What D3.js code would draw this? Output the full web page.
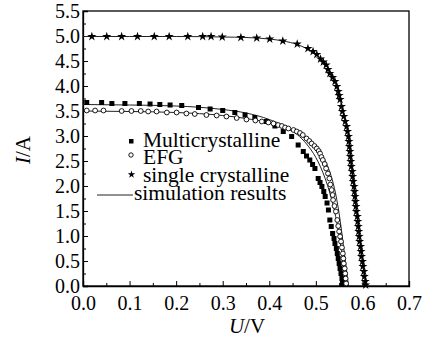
<!DOCTYPE html>
<html>
<head>
<meta charset="utf-8">
<title>I-V curves</title>
<style>
  body { margin: 0; background: #fff; }
</style>
</head>
<body>
<div id="chart"></div>
<script src="https://d3js.org/d3.v7.min.js"></script>
<script>

// measured points, voltage (V) and current (A)
var multiV = [0.008,0.040,0.062,0.090,0.121,0.144,0.165,0.187,0.212,0.248,0.273,0.300,0.326,0.348,0.369,0.394,0.412,0.430,0.448,0.462,0.473,0.480,0.487,0.493,0.498,0.505,0.509,0.513,0.517,0.520,0.524,0.527,0.530,0.533,0.536,0.539,0.541,0.544,0.546,0.548,0.550,0.552,0.554,0.556,0.557];
var multiI = [3.67,3.67,3.65,3.65,3.65,3.64,3.63,3.62,3.61,3.57,3.54,3.51,3.47,3.42,3.37,3.29,3.20,3.09,2.99,2.82,2.69,2.60,2.52,2.43,2.35,2.15,2.07,1.99,1.89,1.79,1.66,1.52,1.32,1.19,1.05,0.95,0.85,0.75,0.65,0.55,0.45,0.35,0.25,0.15,0.05];

var efgV = [0.008,0.026,0.044,0.083,0.104,0.124,0.140,0.158,0.180,0.201,0.222,0.240,0.265,0.287,0.308,0.330,0.351,0.370,0.384,0.398,0.409,0.419,0.427,0.434,0.441,0.452,0.459,0.466,0.472,0.480,0.486,0.491,0.497,0.502,0.506,0.509,0.512,0.515,0.519,0.522,0.526,0.529,0.531,0.534,0.536,0.537,0.540,0.543,0.546,0.548,0.550,0.552,0.554,0.556,0.558,0.559,0.560,0.562,0.563,0.564,0.565];
var efgI = [3.51,3.51,3.51,3.50,3.50,3.50,3.49,3.49,3.47,3.47,3.45,3.44,3.42,3.41,3.39,3.36,3.33,3.31,3.29,3.27,3.25,3.22,3.20,3.17,3.15,3.12,3.09,3.06,3.02,2.95,2.90,2.85,2.80,2.75,2.70,2.65,2.58,2.52,2.44,2.35,2.25,2.15,2.03,1.92,1.82,1.72,1.60,1.49,1.32,1.20,1.09,0.99,0.89,0.77,0.65,0.55,0.45,0.35,0.25,0.15,0.05];

var singleV = [0.019,0.051,0.083,0.117,0.153,0.185,0.225,0.257,0.275,0.299,0.339,0.373,0.401,0.429,0.460,0.483,0.494,0.502,0.510,0.516,0.522,0.526,0.530,0.536,0.541,0.545,0.548,0.550,0.552,0.555,0.557,0.560,0.563,0.566,0.568,0.570,0.571,0.572,0.573,0.574,0.575,0.576,0.578,0.579,0.580,0.582,0.583,0.584,0.585,0.586,0.587,0.589,0.590,0.591,0.592,0.593,0.594,0.596,0.597,0.598,0.600,0.601,0.603,0.604,0.606,0.607];
var singleI = [4.99,4.99,4.99,4.99,4.99,4.99,4.99,4.99,4.99,4.98,4.97,4.96,4.94,4.90,4.84,4.75,4.69,4.63,4.54,4.48,4.42,4.33,4.25,4.17,4.09,3.99,3.89,3.81,3.73,3.59,3.49,3.39,3.29,3.19,3.09,2.99,2.89,2.79,2.69,2.59,2.49,2.39,2.29,2.19,2.09,1.99,1.89,1.79,1.69,1.59,1.49,1.39,1.29,1.19,1.09,0.99,0.89,0.79,0.69,0.59,0.49,0.39,0.29,0.19,0.09,0.02];

// simulation curves
var simMultiV = [0,0.1,0.2,0.3,0.35,0.4,0.43,0.46,0.48,0.50,0.52,0.53,0.54,0.55,0.56,0.565];
var simMultiI = [3.63,3.62,3.60,3.53,3.46,3.33,3.21,3.03,2.84,2.57,2.15,1.86,1.50,1.00,0.38,0];
var simEfgV = [0,0.1,0.2,0.3,0.35,0.4,0.44,0.47,0.50,0.52,0.53,0.54,0.55,0.56,0.57];
var simEfgI = [3.50,3.49,3.47,3.41,3.35,3.26,3.14,3.00,2.77,2.50,2.28,1.95,1.45,0.75,0];
var simSingleV = [0,0.1,0.2,0.3,0.35,0.4,0.43,0.46,0.48,0.50,0.52,0.54,0.55,0.56,0.57,0.58,0.59,0.60,0.608];
var simSingleI = [4.99,4.99,4.99,4.98,4.97,4.94,4.90,4.83,4.75,4.64,4.44,4.09,3.80,3.40,2.98,2.10,1.28,0.50,0];

var xTicks = [0,0.1,0.2,0.3,0.4,0.5,0.6,0.7];
var yTicks = [0,0.5,1,1.5,2,2.5,3,3.5,4,4.5,5,5.5];

var legendLabels = ["Multicrystalline","EFG","single crystalline","simulation results"];

var W = 432, H = 339;
var m = {top: 11, right: 23, bottom: 53, left: 83};
var w = W - m.left - m.right, h = H - m.top - m.bottom;
var FONT = "Liberation Serif";

var svg = d3.select("#chart").append("svg")
    .attr("width", W).attr("height", H)
    .attr("font-family", FONT);

var x = d3.scaleLinear().domain([0, 0.7]).range([m.left, m.left + w]);
var y = d3.scaleLinear().domain([0, 5.5]).range([m.top + h, m.top]);

function zip(a, b) {
  var out = [];
  for (var i = 0; i < a.length; i++) out.push([a[i], b[i]]);
  return out;
}

// frame
svg.append("rect")
  .attr("x", m.left).attr("y", m.top).attr("width", w).attr("height", h)
  .attr("fill", "none").attr("stroke", "#000").attr("stroke-width", 1.3);

// x axis, ticks pointing inward
var xMinor = d3.range(0.05, 0.7, 0.1);
svg.append("g").attr("transform", "translate(0," + (m.top + h) + ")")
  .call(d3.axisBottom(x).tickValues(xTicks).tickSize(-5).tickPadding(10)
    .tickFormat(d3.format(".1f")));
svg.append("g").attr("transform", "translate(0," + (m.top + h) + ")")
  .call(d3.axisBottom(x).tickValues(xMinor).tickSize(-3).tickFormat(""))
  .select(".domain").remove();

var yMinor = d3.range(0.25, 5.5, 0.5);
svg.append("g").attr("transform", "translate(" + m.left + ",0)")
  .call(d3.axisLeft(y).tickValues(yTicks).tickSize(-5).tickPadding(3)
    .tickFormat(d3.format(".1f")));
svg.append("g").attr("transform", "translate(" + m.left + ",0)")
  .call(d3.axisLeft(y).tickValues(yMinor).tickSize(-3).tickFormat(""))
  .select(".domain").remove();

svg.selectAll("g").attr("font-family", FONT);
svg.selectAll(".domain").attr("stroke", "#000").attr("stroke-width", 1.3);
svg.selectAll(".tick line").attr("stroke", "#000").attr("stroke-width", 1);
svg.selectAll(".tick text").attr("font-family", FONT).attr("font-size", 20).attr("fill", "#000");

// axis titles
var yt = svg.append("text")
  .attr("transform", "translate(30,150) rotate(-90)")
  .attr("text-anchor", "middle").attr("font-size", 21).attr("font-family", FONT);
yt.append("tspan").attr("font-style", "italic").text("I");
yt.append("tspan").text("/A");

var xt = svg.append("text")
  .attr("x", x(0.35) + 1).attr("y", 333)
  .attr("text-anchor", "middle").attr("font-size", 21).attr("font-family", FONT);
xt.append("tspan").attr("font-style", "italic").text("U");
xt.append("tspan").text("/V");

// simulation lines
var line = d3.line()
  .x(function(d){ return x(d[0]); })
  .y(function(d){ return y(d[1]); })
  .curve(d3.curveMonotoneX);

[[simMultiV, simMultiI], [simEfgV, simEfgI], [simSingleV, simSingleI]].forEach(function(s) {
  svg.append("path")
    .datum(zip(s[0], s[1]))
    .attr("d", line)
    .attr("fill", "none").attr("stroke", "#222").attr("stroke-width", 1);
});

// markers
var star = d3.symbol().type(d3.symbolStar).size(26);

svg.append("g").selectAll("rect")
  .data(zip(multiV, multiI)).enter().append("rect")
  .attr("x", function(d){ return x(d[0]) - 2.5; })
  .attr("y", function(d){ return y(d[1]) - 2.5; })
  .attr("width", 5).attr("height", 5).attr("fill", "#000");

svg.append("g").selectAll("circle")
  .data(zip(efgV, efgI)).enter().append("circle")
  .attr("cx", function(d){ return x(d[0]); })
  .attr("cy", function(d){ return y(d[1]); })
  .attr("r", 2.4).attr("fill", "#fff").attr("stroke", "#000").attr("stroke-width", 0.9);

svg.append("g").selectAll("path")
  .data(zip(singleV, singleI)).enter().append("path")
  .attr("d", star)
  .attr("transform", function(d){ return "translate(" + x(d[0]) + "," + y(d[1]) + ")"; })
  .attr("fill", "#000");

// legend
var lg = svg.append("g").attr("font-size", 21.5).attr("font-family", FONT);
lg.append("rect").attr("x", 129).attr("y", 139).attr("width", 4.5).attr("height", 4.5).attr("fill", "#000");
lg.append("text").attr("x", 143).attr("y", 147).text(legendLabels[0]);
lg.append("circle").attr("cx", 131).attr("cy", 155).attr("r", 2.2)
  .attr("fill", "#fff").attr("stroke", "#000").attr("stroke-width", 0.9);
lg.append("text").attr("x", 143).attr("y", 164).text(legendLabels[1]);
lg.append("path").attr("d", d3.symbol().type(d3.symbolStar).size(18))
  .attr("transform", "translate(131.5,174.5)").attr("fill", "#000");
lg.append("text").attr("x", 143).attr("y", 182).text(legendLabels[2]);
lg.append("line").attr("x1", 97).attr("x2", 133).attr("y1", 195).attr("y2", 195)
  .attr("stroke", "#222").attr("stroke-width", 1);
lg.append("text").attr("x", 134).attr("y", 200).text(legendLabels[3]);

</script>
</body>
</html>
